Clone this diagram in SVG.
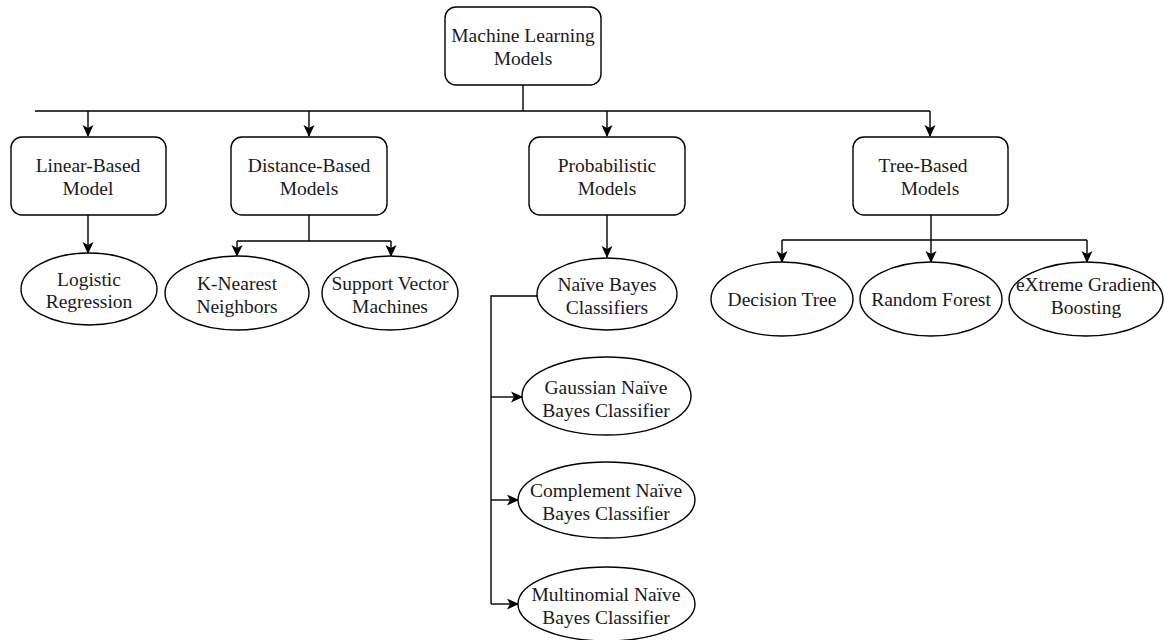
<svg xmlns="http://www.w3.org/2000/svg" width="1165" height="640" viewBox="0 0 1165 640">
<style>
.box{fill:#fff;stroke:#000;stroke-width:1.4}
.t{font-family:"Liberation Serif","Times New Roman",serif;font-size:19.5px;fill:#1a1a1a;text-anchor:middle}
.c{fill:none;stroke:#000;stroke-width:1.4}
</style>
<defs>
<marker id="ah" markerWidth="12" markerHeight="12" refX="11" refY="6" orient="auto" markerUnits="userSpaceOnUse">
<path d="M0,0.5 L12,6 L0,11.5 L3,6 Z" fill="#000"/>
</marker>
</defs>
<rect width="1165" height="640" fill="#fff"/>
<g id="connectors">
<path class="c" d="M523,85 V111 M35,111 H930"/>
<path class="c" d="M88,111 V136" marker-end="url(#ah)"/>
<path class="c" d="M309,111 V136" marker-end="url(#ah)"/>
<path class="c" d="M607,111 V136" marker-end="url(#ah)"/>
<path class="c" d="M930,111 V136" marker-end="url(#ah)"/>
<path class="c" d="M88,215 V253" marker-end="url(#ah)"/>
<path class="c" d="M309,215 V241 M237,241 H391"/>
<path class="c" d="M237,241 V256" marker-end="url(#ah)"/>
<path class="c" d="M391,241 V256" marker-end="url(#ah)"/>
<path class="c" d="M607,215 V257" marker-end="url(#ah)"/>
<path class="c" d="M931,215 V240 M782,240 H1087"/>
<path class="c" d="M782,240 V262" marker-end="url(#ah)"/>
<path class="c" d="M931,240 V262" marker-end="url(#ah)"/>
<path class="c" d="M1087,240 V262" marker-end="url(#ah)"/>
<path class="c" d="M541,296 H491 V604"/>
<path class="c" d="M491,397 H522" marker-end="url(#ah)"/>
<path class="c" d="M491,500 H518" marker-end="url(#ah)"/>
<path class="c" d="M491,604 H518" marker-end="url(#ah)"/>
</g>
<g id="root"><rect class="box" x="445" y="7" width="156" height="78" rx="11"/><text class="t" x="523" y="42">Machine Learning</text><text class="t" x="523" y="65">Models</text></g>
<g id="linear"><rect class="box" x="11" y="137" width="155" height="78" rx="11"/><text class="t" x="88" y="172">Linear-Based</text><text class="t" x="88" y="195">Model</text></g>
<g id="distance"><rect class="box" x="231" y="137" width="156" height="78" rx="11"/><text class="t" x="309" y="172">Distance-Based</text><text class="t" x="309" y="195">Models</text></g>
<g id="prob"><rect class="box" x="529" y="137" width="156" height="78" rx="11"/><text class="t" x="607" y="172">Probabilistic</text><text class="t" x="607" y="195">Models</text></g>
<g id="tree"><rect class="box" x="853" y="137" width="155" height="78" rx="11"/><text class="t" x="923" y="172">Tree-Based</text><text class="t" x="930" y="195">Models</text></g>
<g id="logistic"><ellipse class="box" cx="89" cy="289" rx="68" ry="36"/><text class="t" x="89" y="286">Logistic</text><text class="t" x="89" y="308">Regression</text></g>
<g id="knn"><ellipse class="box" cx="237" cy="293" rx="72" ry="37"/><text class="t" x="237" y="290">K-Nearest</text><text class="t" x="237" y="313">Neighbors</text></g>
<g id="svm"><ellipse class="box" cx="390" cy="293" rx="68" ry="37"/><text class="t" x="390" y="290">Support Vector</text><text class="t" x="390" y="313">Machines</text></g>
<g id="nb"><ellipse class="box" cx="607" cy="294" rx="70" ry="36"/><text class="t" x="607" y="291">Naïve Bayes</text><text class="t" x="607" y="314">Classifiers</text></g>
<g id="gnb"><ellipse class="box" cx="606.5" cy="396" rx="84.5" ry="39"/><text class="t" x="606" y="394">Gaussian Naïve</text><text class="t" x="606" y="417">Bayes Classifier</text></g>
<g id="cnb"><ellipse class="box" cx="606.5" cy="500" rx="88.5" ry="38"/><text class="t" x="606" y="497">Complement Naïve</text><text class="t" x="606" y="520">Bayes Classifier</text></g>
<g id="mnb"><ellipse class="box" cx="606.5" cy="604" rx="88.5" ry="37"/><text class="t" x="606" y="601">Multinomial Naïve</text><text class="t" x="606" y="624">Bayes Classifier</text></g>
<g id="dt"><ellipse class="box" cx="782" cy="299" rx="71" ry="37"/><text class="t" x="782" y="306">Decision Tree</text></g>
<g id="rf"><ellipse class="box" cx="931" cy="299" rx="71" ry="37"/><text class="t" x="931" y="306">Random Forest</text></g>
<g id="xgb"><ellipse class="box" cx="1086" cy="299" rx="77" ry="37"/><text class="t" x="1086" y="291">eXtreme Gradient</text><text class="t" x="1086" y="314">Boosting</text></g>
</svg>
